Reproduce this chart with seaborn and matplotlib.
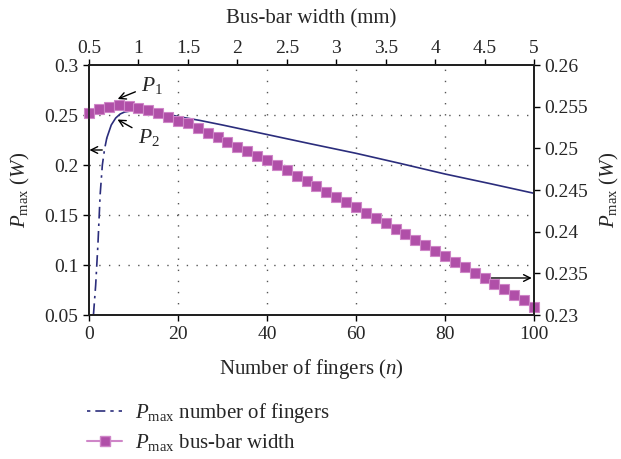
import numpy as np
import pandas as pd
import matplotlib
matplotlib.use("Agg")
import matplotlib.pyplot as plt
from matplotlib.lines import Line2D
import seaborn as sns

# ---- data ----
fingers = [1.0, 1.5, 2.0, 2.5, 3.0, 3.5, 4.0, 5.0, 6.0, 7.0, 8.0, 10, 12, 14, 16, 18, 20,
           25, 30, 36, 40, 50, 60, 70, 80, 90, 100]
p_fingers = [0.050, 0.080, 0.120, 0.170, 0.200, 0.216, 0.227, 0.240, 0.247, 0.251, 0.253,
             0.2545, 0.2545, 0.2535, 0.2525, 0.2505, 0.2485, 0.2445, 0.2400, 0.2343, 0.2305,
             0.2210, 0.2117, 0.2015, 0.1910, 0.1815, 0.1717]
steep_end = 7  # index where the dash-dot part ends (n = 4)

busbar = [0.5, 0.6, 0.7, 0.8, 0.9, 1.0, 1.1, 1.2, 1.3, 1.4, 1.5, 1.6, 1.7, 1.8, 1.9, 2.0,
          2.1, 2.2, 2.3, 2.4, 2.5, 2.6, 2.7, 2.8, 2.9, 3.0, 3.1, 3.2, 3.3, 3.4, 3.5, 3.6,
          3.7, 3.8, 3.9, 4.0, 4.1, 4.2, 4.3, 4.4, 4.5, 4.6, 4.7, 4.8, 4.9, 5.0]
p_busbar = [0.2543, 0.2547, 0.2550, 0.2552, 0.2551, 0.2548, 0.2546, 0.2542, 0.2538, 0.2533,
            0.2530, 0.2524, 0.2519, 0.2514, 0.2508, 0.2502, 0.2497, 0.2491, 0.2486, 0.2480,
            0.2474, 0.2467, 0.2461, 0.2455, 0.2448, 0.2442, 0.2436, 0.2430, 0.2423, 0.2416,
            0.2410, 0.2403, 0.2397, 0.2390, 0.2384, 0.2377, 0.2371, 0.2364, 0.2358, 0.2351,
            0.2344, 0.2337, 0.2331, 0.2324, 0.2318, 0.2310]

bottom_ticks = [0, 20, 40, 60, 80, 100]
left_ticks = [0.05, 0.1, 0.15, 0.2, 0.25, 0.3]
left_labels = ["0.05", "0.1", "0.15", "0.2", "0.25", "0.3"]
top_ticks = [0.5, 1, 1.5, 2, 2.5, 3, 3.5, 4, 4.5, 5]
top_labels = ["0.5", "1", "1.5", "2", "2.5", "3", "3.5", "4", "4.5", "5"]
right_ticks = [0.23, 0.235, 0.24, 0.245, 0.25, 0.255, 0.26]
right_labels = ["0.23", "0.235", "0.24", "0.245", "0.25", "0.255", "0.26"]

# ---- style ----
sns.set_style("ticks")
plt.rcParams["font.family"] = ["Liberation Serif", "DejaVu Serif"]
plt.rcParams["mathtext.fontset"] = "custom"
plt.rcParams["mathtext.rm"] = "Liberation Serif"
plt.rcParams["mathtext.it"] = "Liberation Serif:italic"
FS = 14
LFS = 15
plt.rcParams["font.size"] = FS

BLUE = "#2b2d7c"
PURPLE = "#b04fa8"
PURPLE_LINE = "#cf86c8"

fig = plt.figure(figsize=(6.21, 4.59), dpi=100)
ax = fig.add_axes([89 / 621, 1 - 315 / 459, 445 / 621, 250 / 459])

df_f = pd.DataFrame({"n": fingers, "p": p_fingers})
sns.lineplot(data=df_f.iloc[:steep_end], x="n", y="p", ax=ax, color=BLUE, lw=1.2,
             linestyle=(0, (7, 3, 1.5, 3)), estimator=None, sort=False)
sns.lineplot(data=df_f.iloc[steep_end - 1:], x="n", y="p", ax=ax, color=BLUE, lw=1.2,
             estimator=None, sort=False)
ax.set_xlim(0, 100)
ax.set_ylim(0.05, 0.3)
ax.set_xticks(bottom_ticks)
ax.set_yticks(left_ticks)
ax.set_yticklabels(left_labels)
ax.set_xlabel("Number of fingers ($n$)", fontsize=LFS, labelpad=10)
ax.set_ylabel(r"$P_{\rm max}$ $(W)$", fontsize=LFS, labelpad=9)

# grid: dotted at interior ticks only
for xv in bottom_ticks[1:-1]:
    ax.axvline(xv, color="#555555", lw=1.0, linestyle=(0, (1, 7)), zorder=0)
for yv in left_ticks[1:-1]:
    ax.axhline(yv, color="#555555", lw=1.0, linestyle=(0, (1, 6)), zorder=0)

ax_r = ax.twinx()
ax_tr = ax_r.twiny()
df_b = pd.DataFrame({"w": busbar, "p": p_busbar})
sns.lineplot(data=df_b, x="w", y="p", ax=ax_tr, color=PURPLE_LINE, lw=1.5,
             marker="s", markersize=7, markerfacecolor=PURPLE, markeredgecolor=PURPLE_LINE,
             markeredgewidth=0.8, estimator=None, sort=False, clip_on=False)
ax_tr.set_xlim(0.5, 5)
ax_r.set_ylim(0.23, 0.26)
ax_tr.set_xticks(top_ticks)
ax_tr.set_xticklabels(top_labels)
ax_r.set_yticks(right_ticks)
ax_r.set_yticklabels(right_labels)
ax_tr.set_ylabel("")
ax_tr.set_xlabel("Bus-bar width (mm)", fontsize=LFS, labelpad=12)
ax_r.set_ylabel(r"$P_{\rm max}$ $(W)$", fontsize=LFS, labelpad=7)
ax_tr.tick_params(axis="y", right=False, labelright=False, left=False, labelleft=False)

for a in (ax, ax_r, ax_tr):
    a.tick_params(direction="out", length=4, width=1.0, labelsize=FS, color="black")
    for s in a.spines.values():
        s.set_color("#222222")
        s.set_linewidth(1.3)
ax.tick_params(axis="x", pad=4)
ax_tr.tick_params(axis="x", pad=2)

# annotations
arr = dict(arrowstyle="->", color="black", lw=1.0, shrinkA=2, shrinkB=0,
           mutation_scale=12)
ax.annotate(r"$P_1$", xy=(6.45, 0.2660), xytext=(14.2, 0.2800), fontsize=15.5,
            ha="center", va="center", arrowprops=arr)
ax.annotate(r"$P_2$", xy=(6.4, 0.2455), xytext=(13.4, 0.2280), fontsize=15.5,
            ha="center", va="center", arrowprops=arr)
ax.annotate("", xy=(0.1, 0.215), xytext=(3.6, 0.215), arrowprops=arr)
ax.annotate("", xy=(99.5, 0.087), xytext=(89.3, 0.087), arrowprops=arr)

handles = [
    Line2D([], [], color=BLUE, lw=1.2, linestyle=(0, (2, 3, 6, 3))),
    Line2D([], [], color=PURPLE_LINE, lw=1.5, marker="s", markersize=7,
           markerfacecolor=PURPLE, markeredgecolor=PURPLE_LINE),
]
labels = [r"$P_{\rm max}$ number of fingers", r"$P_{\rm max}$ bus-bar width"]
fig.legend(handles, labels, loc="upper left", bbox_to_anchor=(87 / 621, 1 - 401 / 459),
           frameon=False, fontsize=LFS, handlelength=1.7, handletextpad=0.6,
           labelspacing=0.35, borderpad=0, borderaxespad=0)

fig.savefig("out.png", dpi=100)
